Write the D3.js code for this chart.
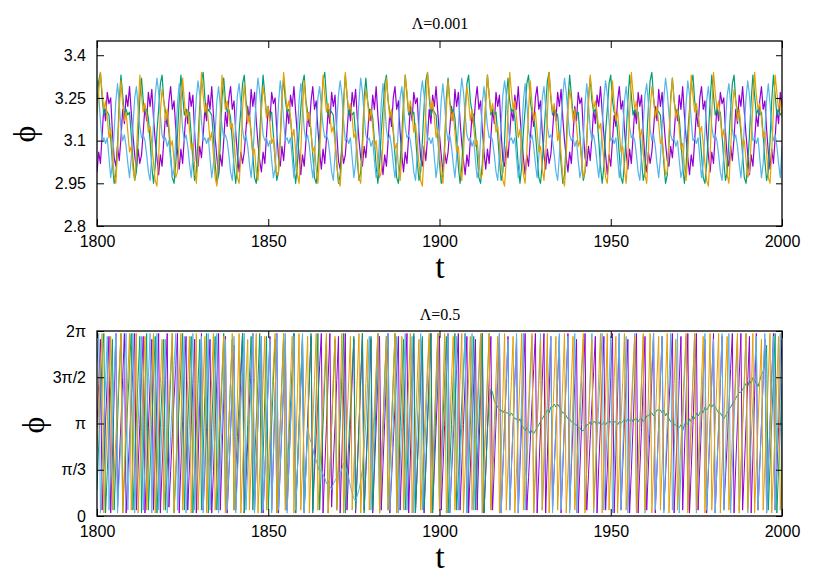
<!DOCTYPE html>
<html><head><meta charset="utf-8">
<script src="https://cdn.jsdelivr.net/npm/d3@7"></script>
<style>body{margin:0;background:#fff}</style>
</head><body><svg id="c" width="830" height="581"></svg>
<script>
const tStart = 1800, tStep = 0.5;
const xTicks = [1800, 1850, 1900, 1950, 2000];
const topYTicks = [2.8, 2.95, 3.1, 3.25, 3.4];
const topYLabels = ["2.8", "2.95", "3.1", "3.25", "3.4"];
const botYTicks = [0, Math.PI / 2, Math.PI, 3 * Math.PI / 2, 2 * Math.PI];
const botYLabels = ["0", "π/3", "π", "3π/2", "2π"];
const seriesColors = ["#9400d3", "#009e73", "#56b4e9", "#e69f00"];
const titles = ["Λ=0.001", "Λ=0.5"];

// ---- top panel (Λ=0.001), samples every 0.5 from t=1800 ----
const topPurple = [
2.99,3.06,3.02,3.12,3.22,3.17,3.27,3.23,3.25,3.13,3.04,
3.01,3.08,3.03,3.11,3.21,3.16,3.26,3.22,3.29,3.20,3.12,3.05,
3.00,3.07,3.02,3.05,3.13,3.22,3.17,3.27,3.22,3.28,3.18,3.10,3.04,
2.98,3.05,3.01,3.10,3.19,3.15,3.24,3.29,3.21,3.24,3.14,3.06,
3.00,3.07,3.02,3.11,3.21,3.16,3.27,3.22,3.26,3.13,3.03,
3.01,3.08,3.04,3.12,3.21,3.17,3.26,3.21,3.29,3.19,3.11,3.04,
2.98,3.05,3.01,3.10,3.20,3.15,3.25,3.29,3.21,3.24,3.13,3.05,
2.99,3.06,3.02,3.06,3.14,3.22,3.17,3.28,3.22,3.27,3.17,3.09,3.03,
2.99,3.06,3.02,3.12,3.22,3.17,3.27,3.23,3.25,3.13,3.04,
3.01,3.08,3.03,3.11,3.21,3.16,3.26,3.22,3.29,3.20,3.12,3.05,
2.98,3.05,3.01,3.10,3.19,3.15,3.24,3.29,3.21,3.24,3.14,3.06,
3.00,3.07,3.02,3.11,3.21,3.16,3.27,3.22,3.26,3.13,3.03,
3.00,3.07,3.02,3.05,3.13,3.22,3.17,3.27,3.22,3.28,3.18,3.10,3.04,
3.01,3.08,3.04,3.12,3.21,3.17,3.26,3.21,3.29,3.19,3.11,3.04,
2.98,3.05,3.01,3.10,3.20,3.15,3.25,3.29,3.21,3.24,3.13,3.05,
2.99,3.06,3.02,3.12,3.22,3.17,3.27,3.23,3.25,3.13,3.04,
3.01,3.08,3.03,3.11,3.21,3.16,3.26,3.22,3.29,3.20,3.12,3.05,
2.99,3.06,3.02,3.06,3.14,3.22,3.17,3.28,3.22,3.27,3.17,3.09,3.03,
2.98,3.05,3.01,3.10,3.19,3.15,3.24,3.29,3.21,3.24,3.14,3.06,
3.00,3.07,3.02,3.11,3.21,3.16,3.27,3.22,3.26,3.13,3.03,
3.01,3.08,3.04,3.12,3.21,3.17,3.26,3.21,3.29,3.19,3.11,3.04,
2.98,3.05,3.01,3.10,3.20,3.15,3.25,3.29,3.21,3.24,3.13,3.05,
3.00,3.07,3.02,3.05,3.13,3.22,3.17,3.27,3.22,3.28,3.18,3.10,3.04,
2.99,3.06,3.02,3.12,3.22,3.17,3.27,3.23,3.25,3.13,3.04,
3.01,3.08,3.03,3.11,3.21,3.16,3.26,3.22,3.29,3.20,3.12,3.05,
2.98,3.05,3.01,3.10,3.19,3.15,3.24,3.29,3.21,3.24,3.14,3.06,
3.00,3.07,3.02,3.11,3.21,3.16,3.27,3.22,3.26,3.13,3.03,
2.99,3.06,3.02,3.06,3.14,3.22,3.17,3.28,3.22,3.27,3.17,3.09,3.03,
3.01,3.08,3.04,3.12,3.21,3.17,3.26,3.21,3.29,3.19,3.11,3.04,
2.98,3.05,3.01,3.10,3.20,3.15,3.25,3.29,3.21,3.24,3.13,3.05,
2.99,3.06,3.02,3.12,3.22,3.17,3.27,3.23,3.25,3.13,3.04,
3.01,3.08,3.03,3.11,3.21,3.16,3.26,3.22,3.29,3.20,3.12,3.05,
2.98,3.05,3.01,3.10,3.19,3.15,3.24,3.29,3.21,3.24,3.14,3.06,
3.00,3.07,3.02,3.11,3.21,3.16,3.27,3.22];

const topTeal = [
3.22,3.31,3.34,3.25,3.19,3.21,3.20,3.19,3.11,3.02,2.95,2.98,3.09,
3.24,3.33,3.26,3.19,3.21,3.19,3.20,3.12,3.03,2.96,2.99,3.10,
3.25,3.32,3.24,3.20,3.21,3.18,3.10,3.01,2.95,3.01,3.13,
3.21,3.30,3.33,3.24,3.20,3.19,3.13,3.05,2.97,2.95,3.02,3.12,
3.24,3.33,3.26,3.19,3.21,3.19,3.20,3.12,3.03,2.96,2.99,3.10,
3.22,3.31,3.34,3.25,3.19,3.21,3.20,3.19,3.11,3.02,2.95,2.98,3.09,
3.25,3.32,3.24,3.20,3.21,3.18,3.10,3.01,2.95,3.01,3.13,
3.21,3.30,3.33,3.24,3.20,3.19,3.13,3.05,2.97,2.95,3.02,3.12,
3.24,3.33,3.26,3.19,3.21,3.19,3.20,3.12,3.03,2.96,2.99,3.10,
3.25,3.32,3.24,3.20,3.21,3.18,3.10,3.01,2.95,3.01,3.13,
3.21,3.30,3.33,3.24,3.20,3.19,3.13,3.05,2.97,2.95,3.02,3.12,
3.22,3.31,3.34,3.25,3.19,3.21,3.20,3.19,3.11,3.02,2.95,2.98,3.09,
3.24,3.33,3.26,3.19,3.21,3.19,3.20,3.12,3.03,2.96,2.99,3.10,
3.25,3.32,3.24,3.20,3.21,3.18,3.10,3.01,2.95,3.01,3.13,
3.21,3.30,3.33,3.24,3.20,3.19,3.13,3.05,2.97,2.95,3.02,3.12,
3.24,3.33,3.26,3.19,3.21,3.19,3.20,3.12,3.03,2.96,2.99,3.10,
3.22,3.31,3.34,3.25,3.19,3.21,3.20,3.19,3.11,3.02,2.95,2.98,3.09,
3.25,3.32,3.24,3.20,3.21,3.18,3.10,3.01,2.95,3.01,3.13,
3.21,3.30,3.33,3.24,3.20,3.19,3.13,3.05,2.97,2.95,3.02,3.12,
3.24,3.33,3.26,3.19,3.21,3.19,3.20,3.12,3.03,2.96,2.99,3.10,
3.25,3.32,3.24,3.20,3.21,3.18,3.10,3.01,2.95,3.01,3.13,
3.21,3.30,3.33,3.24,3.20,3.19,3.13,3.05,2.97,2.95,3.02,3.12,
3.22,3.31,3.34,3.25,3.19,3.21,3.20,3.19,3.11,3.02,2.95,2.98,3.09,
3.24,3.33,3.26,3.19,3.21,3.19,3.20,3.12,3.03,2.96,2.99,3.10,
3.25,3.32,3.24,3.20,3.21,3.18,3.10,3.01,2.95,3.01,3.13,
3.21,3.30,3.33,3.24,3.20,3.19,3.13,3.05,2.97,2.95,3.02,3.12,
3.24,3.33,3.26,3.19,3.21,3.19,3.20,3.12,3.03,2.96,2.99,3.10,
3.22,3.31,3.34,3.25,3.19,3.21,3.20,3.19,3.11,3.02,2.95,2.98,3.09,
3.25,3.32,3.24,3.20,3.21,3.18,3.10,3.01,2.95,3.01,3.13,
3.21,3.30,3.33,3.24,3.20,3.19,3.13,3.05,2.97,2.95,3.02,3.12,
3.24,3.33,3.26,3.19,3.21,3.19,3.20,3.12,3.03,2.96,2.99,3.10,
3.21,3.30,3.33,3.24,3.20,3.19,3.13,3.05,2.97,2.95,3.02,3.12,
3.24,3.33,3.26,3.19,3.21,3.19,3.20,3.12,3.03,2.96,2.99,3.10,
3.24,3.33,3.26,3.19,3.21,3.19,3.20];

const topBlue = [
3.31,3.26,3.17,3.10,3.11,3.09,3.11,3.04,2.97,3.02,3.13,3.24,
3.30,3.23,3.14,3.10,3.12,3.08,3.02,2.97,3.04,3.15,3.25,
3.29,3.22,3.15,3.11,3.12,3.10,3.05,2.99,2.96,3.05,3.16,3.26,
3.32,3.27,3.19,3.12,3.10,3.11,3.08,3.10,3.03,2.97,3.00,3.11,3.23,
3.30,3.23,3.14,3.10,3.12,3.08,3.02,2.97,3.04,3.15,3.25,
3.31,3.26,3.17,3.10,3.11,3.09,3.11,3.04,2.97,3.02,3.13,3.24,
3.29,3.22,3.15,3.11,3.12,3.10,3.05,2.99,2.96,3.05,3.16,3.26,
3.30,3.23,3.14,3.10,3.12,3.08,3.02,2.97,3.04,3.15,3.25,
3.32,3.27,3.19,3.12,3.10,3.11,3.08,3.10,3.03,2.97,3.00,3.11,3.23,
3.31,3.26,3.17,3.10,3.11,3.09,3.11,3.04,2.97,3.02,3.13,3.24,
3.30,3.23,3.14,3.10,3.12,3.08,3.02,2.97,3.04,3.15,3.25,
3.29,3.22,3.15,3.11,3.12,3.10,3.05,2.99,2.96,3.05,3.16,3.26,
3.31,3.26,3.17,3.10,3.11,3.09,3.11,3.04,2.97,3.02,3.13,3.24,
3.32,3.27,3.19,3.12,3.10,3.11,3.08,3.10,3.03,2.97,3.00,3.11,3.23,
3.30,3.23,3.14,3.10,3.12,3.08,3.02,2.97,3.04,3.15,3.25,
3.29,3.22,3.15,3.11,3.12,3.10,3.05,2.99,2.96,3.05,3.16,3.26,
3.31,3.26,3.17,3.10,3.11,3.09,3.11,3.04,2.97,3.02,3.13,3.24,
3.30,3.23,3.14,3.10,3.12,3.08,3.02,2.97,3.04,3.15,3.25,
3.32,3.27,3.19,3.12,3.10,3.11,3.08,3.10,3.03,2.97,3.00,3.11,3.23,
3.29,3.22,3.15,3.11,3.12,3.10,3.05,2.99,2.96,3.05,3.16,3.26,
3.31,3.26,3.17,3.10,3.11,3.09,3.11,3.04,2.97,3.02,3.13,3.24,
3.30,3.23,3.14,3.10,3.12,3.08,3.02,2.97,3.04,3.15,3.25,
3.29,3.22,3.15,3.11,3.12,3.10,3.05,2.99,2.96,3.05,3.16,3.26,
3.32,3.27,3.19,3.12,3.10,3.11,3.08,3.10,3.03,2.97,3.00,3.11,3.23,
3.30,3.23,3.14,3.10,3.12,3.08,3.02,2.97,3.04,3.15,3.25,
3.31,3.26,3.17,3.10,3.11,3.09,3.11,3.04,2.97,3.02,3.13,3.24,
3.29,3.22,3.15,3.11,3.12,3.10,3.05,2.99,2.96,3.05,3.16,3.26,
3.30,3.23,3.14,3.10,3.12,3.08,3.02,2.97,3.04,3.15,3.25,
3.32,3.27,3.19,3.12,3.10,3.11,3.08,3.10,3.03,2.97,3.00,3.11,3.23,
3.31,3.26,3.17,3.10,3.11,3.09,3.11,3.04,2.97,3.02,3.13,3.24,
3.29,3.22,3.15,3.11,3.12,3.10,3.05,2.99,2.96,3.05,3.16,3.26,
3.30,3.23,3.14,3.10,3.12,3.08,3.02,2.97,3.04,3.15,3.25,
3.31,3.26,3.17,3.10,3.11,3.09,3.11,3.04,2.97,3.02,3.13,3.24,
3.30,3.23,3.14,3.10,3.12,3.08,3.02,2.97,3.08];

const topOrange = [
3.19,3.27,
3.34,3.27,3.21,3.24,3.18,3.11,3.14,3.06,2.98,2.95,3.06,3.21,
3.31,3.23,3.17,3.20,3.13,3.06,3.08,3.00,2.96,3.05,3.19,
3.33,3.26,3.20,3.23,3.19,3.13,3.15,3.09,3.02,2.96,2.94,3.04,3.20,
3.28,3.24,3.17,3.21,3.15,3.08,3.10,3.03,2.97,2.99,3.10,3.23,
3.32,3.24,3.18,3.21,3.14,3.07,3.09,3.01,2.95,3.04,3.18,
3.34,3.26,3.20,3.23,3.17,3.10,3.13,3.05,2.97,2.94,3.05,3.20,
3.33,3.27,3.21,3.24,3.20,3.14,3.16,3.10,3.03,2.97,2.95,3.05,3.21,
3.30,3.22,3.16,3.19,3.12,3.05,3.07,2.99,2.96,3.06,3.20,
3.29,3.25,3.18,3.22,3.16,3.09,3.11,3.04,2.98,2.99,3.11,3.24,
3.34,3.27,3.21,3.24,3.18,3.11,3.14,3.06,2.98,2.95,3.06,3.21,
3.31,3.23,3.17,3.20,3.13,3.06,3.08,3.00,2.95,3.05,3.19,
3.33,3.26,3.20,3.23,3.19,3.13,3.15,3.09,3.02,2.96,2.94,3.04,3.20,
3.34,3.26,3.21,3.23,3.18,3.11,3.13,3.06,2.97,2.95,3.06,3.21,
3.28,3.24,3.17,3.21,3.15,3.08,3.10,3.03,2.97,2.99,3.10,3.23,
3.32,3.24,3.18,3.21,3.14,3.07,3.09,3.01,2.96,3.05,3.19,
3.33,3.27,3.20,3.24,3.19,3.13,3.16,3.09,3.02,2.96,2.94,3.05,3.20,
3.34,3.27,3.21,3.24,3.18,3.11,3.14,3.06,2.98,2.95,3.06,3.21,
3.31,3.23,3.17,3.20,3.13,3.06,3.08,3.00,2.96,3.05,3.19,
3.29,3.24,3.17,3.21,3.15,3.08,3.10,3.03,2.97,2.98,3.10,3.23,
3.33,3.26,3.20,3.23,3.19,3.13,3.15,3.09,3.02,2.96,2.94,3.04,3.20,
3.34,3.27,3.21,3.24,3.18,3.11,3.14,3.06,2.98,2.95,3.06,3.21,
3.31,3.23,3.17,3.20,3.13,3.06,3.08,3.00,2.96,3.05,3.19,
3.34,3.26,3.20,3.23,3.17,3.10,3.13,3.05,2.97,2.94,3.05,3.20,
3.28,3.24,3.17,3.21,3.15,3.08,3.10,3.03,2.97,2.99,3.10,3.23,
3.33,3.27,3.21,3.24,3.20,3.14,3.16,3.10,3.03,2.97,2.95,3.05,3.21,
3.31,3.23,3.17,3.20,3.13,3.06,3.08,3.00,2.95,3.05,3.19,
3.34,3.27,3.21,3.24,3.18,3.11,3.14,3.06,2.98,2.95,3.06,3.21,
3.29,3.25,3.18,3.22,3.16,3.09,3.11,3.04,2.98,2.99,3.11,3.24,
3.32,3.24,3.18,3.21,3.14,3.07,3.09,3.01,2.96,3.05,3.19,
3.33,3.26,3.20,3.23,3.19,3.13,3.15,3.09,3.02,2.96,2.94,3.04,3.20,
3.34,3.27,3.21,3.24,3.18,3.11,3.14,3.06,2.98,2.95,3.06,3.21,
3.28,3.24,3.17,3.21,3.15,3.08,3.10,3.03,2.97,2.99,3.10,3.23,
3.34,3.26,3.21,3.23,3.18,3.11,3.13,3.06,2.97,2.95,3.06,3.21,
3.33,3.27,3.21,3.24,3.18];

// ---- bottom panel (Λ=0.5), phases in [0, 2π), samples every 0.5 ----
const botPurple = [
3.0,4.5,6.0,0.2,1.7,3.2,4.6,6.1,0.1,2.0,4.1,6.2,0.3,1.8,3.2,4.7,6.2,0.1,1.4,2.6,
3.9,5.0,6.2,0.2,1.6,3.1,4.7,6.1,0.1,1.5,3.0,4.5,6.0,0.2,2.2,4.1,6.2,0.1,1.6,3.0,
4.6,6.2,0.3,1.5,2.8,4.0,5.1,6.2,0.1,1.7,3.2,4.8,6.1,0.2,1.7,3.1,4.5,6.0,0.1,1.8,
4.0,6.2,0.2,1.6,3.0,4.6,6.0,0.1,1.5,3.1,4.6,6.2,0.2,2.1,4.0,6.1,0.1,1.4,2.9,4.3,
5.8,0.2,1.7,3.1,4.7,6.2,0.1,1.2,2.5,3.8,5.0,6.2,0.2,1.8,3.2,4.8,6.1,0.1,1.5,3.0,
4.6,6.1,0.2,2.0,4.1,6.2,0.1,1.6,3.0,4.5,6.0,0.2,1.6,3.1,4.7,6.2,0.1,1.5,3.0,4.4,
6.0,0.1,1.7,3.2,4.6,6.1,0.2,1.5,2.7,3.9,5.1,6.2,0.1,1.6,3.1,4.7,6.2,0.3,1.8,3.1,
4.6,6.1,0.1,2.1,4.1,6.2,0.2,1.7,3.1,4.6,6.0,0.1,1.6,3.1,4.6,6.2,0.2,1.5,2.9,4.4,
6.0,0.1,1.6,3.0,4.6,6.1,0.2,1.7,3.2,4.7,6.2,0.1,1.3,2.5,3.7,4.9,6.1,0.2,1.8,3.3,
4.7,6.2,0.1,2.0,4.0,6.1,0.2,1.6,3.1,4.5,6.0,0.1,1.7,3.2,4.7,6.2,0.2,1.6,3.0,4.4,
6.1,0.2,1.6,3.1,4.7,6.2,0.1,1.4,2.6,3.8,5.0,6.2,0.2,1.7,3.1,4.6,6.1,0.1,1.6,3.0,
4.5,6.0,0.2,2.2,4.1,6.2,0.1,1.5,3.0,4.6,6.1,0.2,1.7,3.2,4.6,6.2,0.1,1.6,3.1,4.5,
6.1,0.2,1.6,3.1,4.6,6.0,0.1,1.7,3.2,4.7,6.2,0.2,1.3,2.5,3.8,5.0,6.2,0.1,1.5,3.0,
4.6,6.2,0.1,2.0,4.1,6.1,0.2,1.6,3.0,4.6,6.1,0.1,1.6,3.2,4.7,6.2,0.2,1.7,3.1,4.5,
6.0,0.1,1.6,3.1,4.6,6.2,0.2,1.4,2.6,3.8,4.9,6.1,0.1,1.7,3.1,4.6,6.1,0.2,1.6,3.1,
4.7,6.2,0.1,2.1,4.1,6.2,0.2,1.7,3.2,4.6,6.0,0.1,1.5,3.0,4.6,6.2,0.1,1.6,3.0,4.5,
6.1,0.2,1.7,3.1,4.7,6.2,0.1,1.6,3.1,4.6,6.1,0.2,1.4,2.6,3.8,5.0,6.2,0.1,1.6,3.1,
4.6,6.1,0.2,2.1,4.0,6.2,0.1,1.6,3.1,4.7,6.2,0.2,1.7,3.2,4.6,6.0,0.1,1.5,3.0,4.6,
6.2,0.1,1.6,3.0,4.5,6.1,0.2,1.3,2.5,3.7,5.0,6.2,0.1,1.7,3.2,4.7,6.2,0.2,1.6,3.1,
4.6,6.1,0.1,2.0,4.1,6.2,0.2,1.7,3.1,4.6,6.0,0.1,1.6,3.1,4.7,6.2,0.2,1.5,3.0,4.5,
6.0];

const botTeal = [
0.9,2.4,3.9,5.3,6.2,0.1,1.5,2.9,4.4,6.0,0.2,1.7,3.2,4.8,6.2,0.1,1.3,2.6,3.9,5.1,
6.2,0.2,1.8,3.3,4.7,6.1,0.1,2.1,4.1,6.2,0.2,1.6,3.1,4.6,6.1,0.1,1.5,3.0,4.4,6.0,
0.2,1.6,3.2,4.7,6.2,0.1,1.4,2.6,3.8,5.0,6.2,0.2,1.7,3.1,4.6,6.1,0.1,1.6,3.0,4.5,
6.0,0.2,2.1,4.1,6.2,0.1,1.5,3.0,4.6,6.1,0.2,1.7,3.2,4.6,6.2,0.1,1.6,3.1,4.6,6.0,
0.2,1.5,2.7,3.9,5.1,6.2,0.1,1.6,3.1,4.7,6.1,0.2,1.7,3.2,4.6,6.2,0.1,2.0,4.0,6.1,
0.2,1.7,3.1,4.6,6.0,0.1,1.6,3.1,4.7,6.2,0.2,1.4,2.6,3.8,5.0,6.2,0.1,1.6,3.2,4.6,
6.1,0.2,1.6,3.0,4.6,6.2,0.1,2.1,4.1,6.2,0.2,1.7,3.1,4.6,6.1,0.1,1.5,3.0,4.5,6.0,
0.2,1.7,3.2,4.7,6.2,0.1,1.3,2.5,3.7,4.9,6.1,0.2,1.6,3.1,4.6,6.2,0.1,1.6,3.1,4.6,
6.1,0.2,2.0,4.1,6.2,0.1,1.6,3.1,4.7,6.1,0.2,1.7,3.1,4.6,6.2,0.1,1.5,3.0,4.5,6.0,
0.2,1.4,2.6,3.8,5.0,6.2,0.1,1.6,3.2,4.7,6.1,0.2,1.6,3.1,4.6,6.2,0.1,2.1,4.1,6.2,
0.2,1.7,3.2,4.6,6.1,0.1,1.6,3.1,4.7,6.2,0.2,1.3,2.5,3.8,5.0,6.2,0.1,1.6,3.1,4.6,
6.1,0.2,1.7,3.2,4.6,6.2,0.1,1.5,2.9,3.8,4.3,4.2,3.9,3.8,3.7,3.6,3.6,3.5,3.6,3.5,
3.5,3.4,3.5,3.4,3.3,3.3,3.2,3.3,3.1,3.0,2.9,3.0,2.9,2.8,2.9,2.8,2.9,3.0,3.1,3.2,
3.3,3.4,3.5,3.6,3.5,3.7,3.7,3.8,3.7,3.8,3.7,3.6,3.5,3.5,3.4,3.3,3.3,3.2,3.2,3.1,
3.1,3.0,3.0,2.9,2.9,3.0,3.1,3.1,3.2,3.1,3.2,3.2,3.1,3.2,3.1,3.1,3.2,3.1,3.2,3.2,
3.2,3.1,3.2,3.2,3.1,3.2,3.15,3.2,3.3,3.2,3.3,3.25,3.3,3.2,3.3,3.3,3.2,3.3,3.3,3.2,
3.3,3.4,3.4,3.5,3.5,3.4,3.5,3.6,3.6,3.6,3.5,3.6,3.4,3.5,3.3,3.2,3.3,3.1,3.1,3.0,
3.0,3.1,2.9,3.1,3.2,3.1,3.3,3.2,3.4,3.3,3.5,3.4,3.5,3.6,3.5,3.7,3.6,3.7,3.8,3.7,
3.8,3.7,3.6,3.5,3.5,3.4,3.3,3.4,3.5,3.6,3.7,3.8,3.9,4.0,4.1,4.2,4.2,4.3,4.4,4.5,
4.4,4.6,4.5,4.7,4.6,4.5,4.4,4.6,4.8,4.9,5.2,5.8,0.2,1.7,3.2,4.7,6.2,0.1,1.6,3.0,
4.5];

const botBlue = [
5.2,6.2,0.1,1.7,3.2,4.6,6.1,0.2,1.6,3.1,4.7,6.2,0.1,1.4,2.6,3.8,5.0,6.2,0.2,2.1,
4.1,6.2,0.1,1.6,3.1,4.6,6.1,0.2,1.7,3.2,4.7,6.2,0.1,2.0,4.1,6.2,0.2,1.6,3.1,4.5,
6.0,0.1,1.5,2.7,3.9,5.1,6.2,0.2,1.7,3.1,4.6,6.1,0.1,1.6,3.2,4.7,6.2,0.2,1.6,3.0,
4.6,6.1,0.1,2.1,4.1,6.2,0.2,1.6,3.1,4.7,6.2,0.1,1.7,3.1,4.6,6.0,0.2,1.5,3.0,4.6,
6.1,0.1,1.4,2.6,3.8,5.0,6.2,0.2,1.6,3.1,4.6,6.2,0.1,1.7,3.2,4.6,6.1,0.2,1.6,3.0,
4.5,6.0,0.1,2.1,4.1,6.2,0.2,1.7,3.1,4.7,6.2,0.1,1.6,3.1,4.6,6.1,0.2,1.5,3.1,4.6,
6.2,0.1,1.6,3.0,2.7,2.5,2.3,2.0,1.9,1.7,1.5,1.6,1.4,1.3,1.1,1.2,1.0,0.9,1.1,1.2,
1.3,1.5,1.4,1.6,1.8,1.7,1.5,1.3,1.0,0.8,0.6,0.5,0.7,0.9,1.2,1.6,2.3,3.2,4.5,6.1,
0.2,1.7,3.2,4.7,6.2,0.1,1.5,2.7,3.9,5.1,6.2,0.2,1.6,3.1,4.6,6.1,0.1,1.7,3.2,4.6,
6.2,0.2,2.0,4.1,6.1,0.1,1.6,3.1,4.7,6.2,0.2,1.7,3.1,4.6,6.0,0.1,1.5,3.0,4.5,6.1,
0.2,1.4,2.6,3.8,5.0,6.2,0.1,1.6,3.2,4.6,6.1,0.2,1.7,3.1,4.7,6.2,0.1,2.1,4.0,6.2,
0.2,1.6,3.1,4.6,6.1,0.1,1.7,3.2,4.7,6.2,0.2,1.3,2.5,3.8,5.0,6.2,0.1,1.6,3.1,4.6,
6.0,0.2,1.7,3.1,4.6,6.2,0.1,2.1,4.1,6.2,0.2,1.6,3.2,4.7,6.1,0.1,1.5,3.0,4.6,6.2,
0.2,1.5,2.7,3.9,5.0,6.1,0.1,1.6,3.1,4.7,6.2,0.2,1.7,3.2,4.6,6.1,0.1,2.0,4.1,6.2,
0.1,1.6,3.1,4.6,6.0,0.2,1.7,3.2,4.7,6.2,0.1,1.4,2.6,3.8,5.0,6.2,0.2,1.6,3.1,4.5,
6.1,0.1,1.7,3.1,4.6,6.2,0.2,2.1,4.0,6.1,0.1,1.6,3.2,4.7,6.2,0.2,1.5,3.0,4.6,6.1,
0.1,1.4,2.6,3.9,5.1,6.2,0.2,1.6,3.1,4.7,6.1,0.1,1.7,3.2,4.6,6.2,0.2,2.1,4.1,6.2,
0.1,1.6,3.1,4.6,6.1,0.2,1.7,3.2,4.7,6.2,0.1,1.3,2.5,3.7,5.0,6.2,0.2,1.6,3.1,4.6,
6.0,0.1,1.7,3.1,4.6,6.2,0.2,2.0,4.1,6.2,0.1,1.6,3.2,4.7,6.1,0.2,1.5,3.0,4.6,6.2,
0.1,1.4,2.6,3.8,5.0,6.1,0.2,1.6,3.1,4.7,6.2,0.1,1.7,3.2,4.6,6.1,0.2,2.1,4.1,6.2,
0.1];

const botOrange = [
2.2,3.7,5.1,6.2,0.1,1.6,3.1,4.6,6.1,0.2,1.4,2.6,3.8,5.0,6.2,0.1,1.7,3.2,4.7,6.2,
0.2,2.1,4.1,6.2,0.1,1.6,3.0,4.6,6.1,0.2,1.7,3.2,4.6,6.2,0.1,1.5,3.0,4.5,6.0,0.2,
1.4,2.6,3.8,5.0,6.2,0.1,1.6,3.1,4.7,6.2,0.2,1.7,3.1,4.6,6.1,0.1,2.0,4.1,6.2,0.2,
1.6,3.1,4.6,6.1,0.1,1.7,3.2,4.7,6.2,0.2,1.3,2.5,3.7,4.9,6.1,0.1,1.6,3.1,4.6,6.2,
0.2,2.1,4.0,6.2,0.1,1.6,3.1,4.6,6.0,0.2,1.7,3.2,4.7,6.2,0.1,1.5,3.0,4.6,6.1,0.2,
1.5,2.7,3.9,5.1,6.2,0.1,1.6,3.1,4.6,6.2,0.2,1.7,3.1,4.7,6.1,0.1,2.1,4.1,6.2,0.2,
1.6,3.2,4.6,6.1,0.1,1.7,3.1,4.6,6.2,0.2,1.4,2.6,3.8,5.0,6.2,0.1,1.6,3.1,4.7,6.1,
0.2,2.0,4.1,6.2,0.1,1.6,3.2,4.6,6.1,0.2,1.7,3.1,4.7,6.2,0.1,1.5,3.0,4.5,6.0,0.2,
1.3,2.5,3.7,5.0,6.2,0.1,1.6,3.1,4.6,6.1,0.2,1.7,3.2,4.7,6.2,0.1,2.1,4.0,6.1,0.2,
1.6,3.1,4.6,6.2,0.1,1.7,3.1,4.6,6.0,0.2,1.4,2.6,3.9,5.1,6.2,0.1,1.6,3.2,4.7,6.2,
0.2,2.1,4.1,6.2,0.1,1.5,3.0,4.6,6.1,0.2,1.7,3.2,4.6,6.2,0.1,1.6,3.1,4.7,6.1,0.2,
1.4,2.6,3.8,5.0,6.2,0.1,1.7,3.1,4.6,6.2,0.2,1.6,3.1,4.7,6.1,0.1,2.0,4.1,6.2,0.2,
1.7,3.2,4.6,6.1,0.1,1.6,3.1,4.7,6.2,0.2,1.3,2.5,3.8,5.0,6.2,0.1,1.7,3.1,4.6,6.0,
0.2,2.1,4.0,6.2,0.1,1.6,3.2,4.7,6.1,0.2,1.7,3.1,4.6,6.2,0.1,1.5,3.0,4.6,6.1,0.2,
1.4,2.7,3.9,5.1,6.2,0.1,1.6,3.1,4.6,6.0,0.2,1.7,3.2,4.7,6.2,0.1,2.1,4.1,6.2,0.2,
1.6,3.1,4.7,6.1,0.1,1.7,3.2,4.6,6.2,0.2,1.4,2.6,3.8,5.0,6.1,0.1,1.6,3.1,4.6,6.2,
0.2,2.0,4.1,6.2,0.1,1.6,3.1,4.7,6.1,0.2,1.7,3.2,4.6,6.2,0.1,1.5,3.0,4.5,6.0,0.2,
1.3,2.5,3.7,5.0,6.2,0.1,1.6,3.2,4.7,6.2,0.2,1.7,3.1,4.6,6.1,0.1,2.1,4.0,6.2,0.2,
1.6,3.1,4.6,6.2,0.1,1.7,3.1,4.7,6.1,0.2,1.4,2.6,3.8,5.0,6.2,0.1,1.6,3.2,4.6,6.2,
0.2,2.1,4.1,6.2,0.1,1.6,3.1,4.6,6.0,0.2,1.7,3.2,4.7,6.2,0.1,1.5,3.0,4.5,6.1,0.2,
1.6];

// ---------------- drawing ----------------
const svg = d3.select("#c");
const x = d3.scaleLinear().domain([1800, 2000]).range([97, 782]);
const panels = [
  {top: 41, bottom: 226, domain: [2.8, 3.45], ticks: topYTicks, labels: topYLabels,
   series: [topPurple, topTeal, topBlue, topOrange], titleY: 29, tY: 278, phiX: 25, phiY: 134, width: 1.2},
  {top: 331, bottom: 516, domain: [0, 2 * Math.PI], ticks: botYTicks, labels: botYLabels,
   series: [botPurple, botTeal, botBlue, botOrange], titleY: 320, tY: 568, phiX: 34, phiY: 425, width: 1.0}
];
const sans = "'Liberation Sans', Arial, Helvetica, sans-serif";
const serif = "'Liberation Serif', 'Times New Roman', serif";

panels.forEach((p, k) => {
  const y = d3.scaleLinear().domain(p.domain).range([p.bottom, p.top]);
  const g = svg.append("g");
  const clipId = "clip" + k;
  svg.append("clipPath").attr("id", clipId).append("rect")
    .attr("x", 97).attr("y", p.top).attr("width", 685).attr("height", p.bottom - p.top);
  const line = d3.line().x((d, i) => x(tStart + i * tStep)).y(d => y(d));
  const lg = g.append("g").attr("clip-path", `url(#${clipId})`);
  p.series.forEach((s, j) => {
    lg.append("path").datum(s).attr("d", line)
      .attr("fill", "none").attr("stroke", seriesColors[j])
      .attr("stroke-width", p.width).attr("stroke-linejoin", "round");
  });
  const left = d3.axisLeft(y).tickValues(p.ticks).tickFormat((d, i) => p.labels[i])
    .tickSizeInner(-7).tickSizeOuter(0).tickPadding(11);
  const right = d3.axisRight(y).tickValues(p.ticks).tickFormat("").tickSizeInner(-6).tickSizeOuter(0);
  const bottom = d3.axisBottom(x).tickValues(xTicks).tickFormat(d3.format("d"))
    .tickSizeInner(-7).tickSizeOuter(0).tickPadding(10);
  const topA = d3.axisTop(x).tickValues(xTicks).tickFormat("").tickSizeInner(-7).tickSizeOuter(0);
  const axes = [
    g.append("g").attr("transform", "translate(97,0)").call(left),
    g.append("g").attr("transform", "translate(782,0)").call(right),
    g.append("g").attr("transform", `translate(0,${p.bottom})`).call(bottom),
    g.append("g").attr("transform", `translate(0,${p.top})`).call(topA)
  ];
  axes.forEach(a => {
    a.select(".domain").remove();
    a.selectAll(".tick line").attr("stroke", "#000").attr("stroke-width", 1);
    a.selectAll("text").attr("font-family", sans).attr("font-size", 16).attr("fill", "#000");
  });
  g.append("rect").attr("x", 97).attr("y", p.top).attr("width", 685).attr("height", p.bottom - p.top)
    .attr("fill", "none").attr("stroke", "#000").attr("stroke-width", 1.3);
  g.append("text").attr("x", 440).attr("y", p.titleY).attr("text-anchor", "middle")
    .attr("font-family", serif).attr("font-size", 16).text(titles[k]);
  g.append("text").attr("x", 440).attr("y", p.tY).attr("text-anchor", "middle")
    .attr("font-family", serif).attr("font-size", 34).text("t");
  g.append("text").attr("transform", `translate(${p.phiX},${p.phiY}) rotate(-90)`)
    .attr("text-anchor", "middle").attr("dy", "0.32em")
    .attr("font-family", serif).attr("font-size", 32).text("ϕ");
});
</script>
</body></html>
